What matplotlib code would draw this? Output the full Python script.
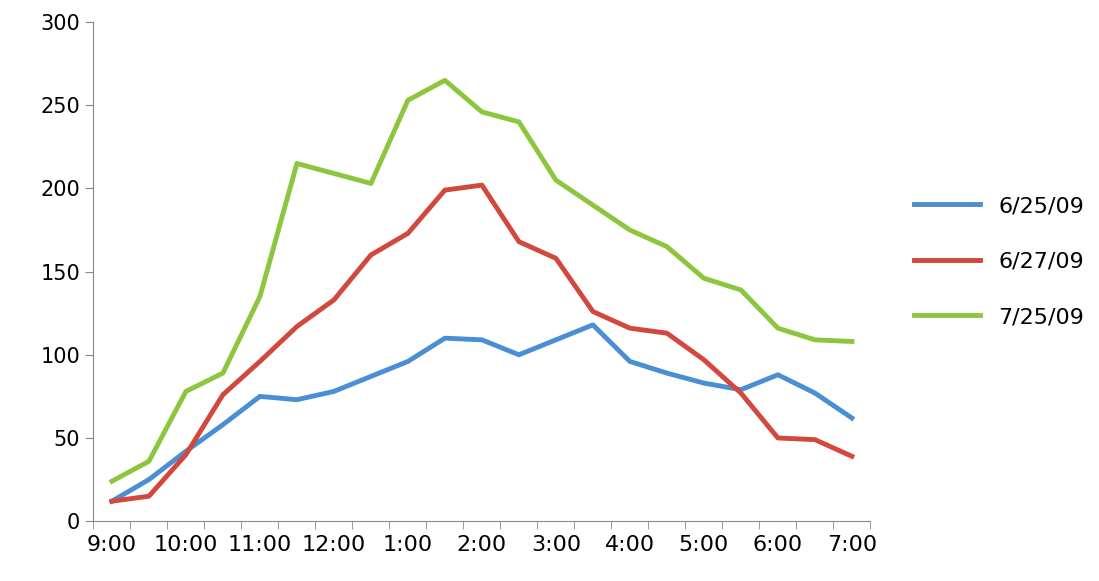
import matplotlib.pyplot as plt

hours = ["9:00", "10:00", "11:00", "12:00", "1:00", "2:00", "3:00", "4:00", "5:00", "6:00", "7:00"]
blue = [12, 25, 42, 58, 75, 73, 78, 87, 96, 110, 109, 100, 109, 118, 96, 89, 83, 79, 88, 77, 62]
red = [12, 15, 40, 76, 96, 117, 133, 160, 173, 199, 202, 168, 158, 126, 116, 113, 97, 77, 50, 49, 39]
green = [24, 36, 78, 89, 135, 215, 209, 203, 253, 265, 246, 240, 205, 190, 175, 165, 146, 139, 116, 109, 108]
series = [("6/25/09", blue, "#4a8fd4"), ("6/27/09", red, "#d2473e"), ("7/25/09", green, "#8cc63f")]

fig = plt.figure(figsize=(10.99, 5.81), dpi=100)
ax = fig.add_axes([0.085, 0.103, 0.707, 0.859])
xs = list(range(len(blue)))
for name, ys, c in series:
    ax.plot(xs, ys, color=c, lw=3.5, label=name)

ax.set_xlim(-0.5, len(blue) - 0.5)
ax.set_ylim(0, 300)
ax.set_yticks(range(0, 301, 50))
ax.set_xticks([x - 0.5 for x in xs] + [len(xs) - 0.5], minor=True)
ax.set_xticks(range(0, len(xs), 2))
ax.set_xticklabels(hours)
ax.tick_params(axis="x", which="major", length=0, labelsize=16, pad=10)
ax.tick_params(axis="x", which="minor", length=6, color="#888888")
ax.tick_params(axis="y", length=6, labelsize=15, color="#888888")
for s in ["top", "right"]:
    ax.spines[s].set_visible(False)
for s in ["left", "bottom"]:
    ax.spines[s].set_color("#888888")
ax.legend(loc="center left", bbox_to_anchor=(1.03, 0.52), frameon=False, fontsize=16,
          handlelength=3.0, labelspacing=1.6)
fig.savefig("out.png")
